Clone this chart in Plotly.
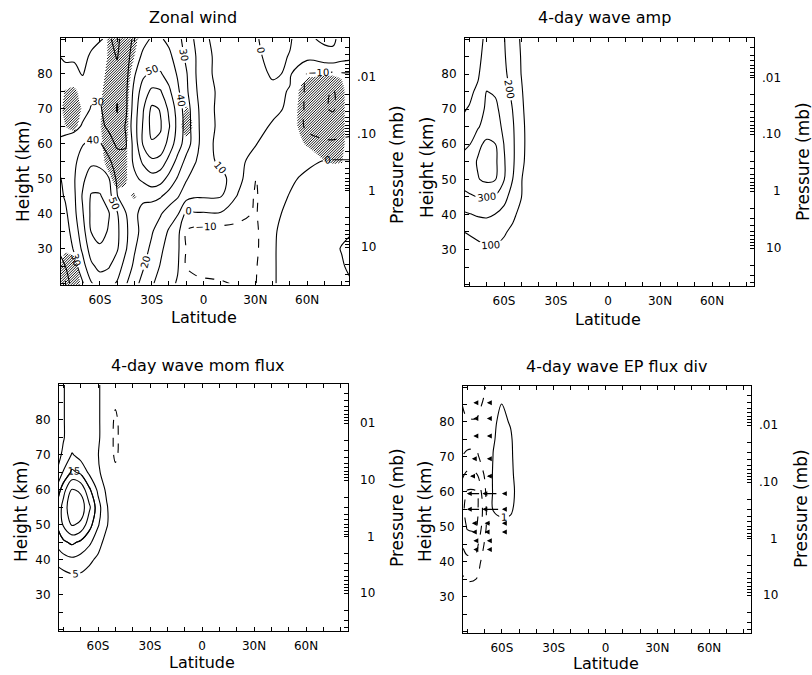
import numpy as np
import plotly.graph_objects as go

W, H = 812, 675
FONT = "DejaVu Sans"

# ------------------------------------------------------------------ data
heights = [20, 25, 30, 35, 40, 45, 50, 55, 60, 65, 70, 75, 80, 85, 90]

# Zonal wind (m/s), rows = heights, cols = lat_zw
lat_zw = [-85, -80, -75, -70, -65, -60, -55, -50, -45, -40, -35, -30, -25, -20, -15, -10, -5, 0,
          10, 20, 30, 40, 50, 60, 70, 75, 80, 85]
zonal_wind = [
    [16, 18, 22, 29, 39, 44, 43, 39, 31, 23, 17, 11, 7, 3, -1, -6, -8, -9, -9.5, -10.5, -10.5, -1, 4, 5, 6, 7, 8, 9],
    [18, 20, 26, 36, 48, 53, 51, 45, 36, 28, 21, 15, 9.5, 5, 1, -10.5, -12, -12, -12, -12, -11, -1, 4, 5, 7, 8, 9, 12],
    [20, 23, 31, 42, 55, 58, 56, 51, 41, 31, 24, 18, 12, 6, 2, -10.5, -13, -13, -14, -14, -12, -1, 4, 5, 7, 8, 10.5, 13],
    [22, 26, 34, 46, 60.5, 65, 59, 52, 42, 33, 27, 21, 15, 9, 3, -10.5, -13, -13, -14, -13, -12, -1, 3, 5, 6, 7, 8, 9],
    [24, 28, 37, 49, 62, 66, 61, 51, 40.5, 32, 27, 24, 21, 15, 11, -3, -1, -1, -1, -7, -11, -2, 2, 4, 5, 5, 5, 5],
    [26, 31, 38, 51, 61, 61, 55, 40.5, 33, 30.5, 32, 33, 31, 26, 21, 14, 11, 11, 10.5, -1, -11, -4, 0.5, 3, 4, 4, 4, 4],
    [28, 32, 39, 48, 55, 55, 51, 38, 34, 38, 42, 46, 44, 37, 29, 21, 15, 13, 13, 4, -10.5, -6, -1.5, 2, 3, 3.5, 4, 4],
    [31, 33, 38, 44, 48, 47, 42, 35, 33, 42, 52, 58, 56, 47, 37, 27, 21, 14, 8, 3, -4, -5, -4, -2, 0.5, 0.8, 0.8, 0.8],
    [31, 33, 36, 39.5, 42, 41, 35, 28, 29, 44, 61, 69, 68, 56, 45, 35, 25, 15, 6, 4, 0.5, -4, -6, -8, -8.5, -8.5, -8.5, -8.5],
    [28, 27, 27, 31, 34, 33, 28, 22, 31, 46, 61, 73, 71, 61, 47, 36, 24, 16, 7, 5, 3, -1, -6, -11, -14, -15, -13, -12],
    [26, 25, 24, 27, 30.5, 31, 26, 19.5, 28, 45, 59, 72, 69.5, 58, 46, 35, 24, 15, 7, 5, 3.5, 2, -1.5, -12, -19, -21, -16, -14],
    [25, 24, 24, 25, 28, 29, 26, 21, 28, 43, 55, 62, 61, 52, 42, 32, 22, 14, 8, 6, 5, 2, -0.5, -12, -18, -21, -15, -13],
    [23, 22, 22, 19.5, 24, 26, 25, 22, 27, 39, 48, 52, 51, 46, 39, 31, 21, 13, 7, 5, 3, -1, 1, -10.5, -11, -12, -11, -11],
    [20.5, 19, 19, 18, 21, 23, 23, 19.5, 26, 35, 42, 45, 45, 42, 36, 28, 21, 12, 8, 4, 2, -3, 0.5, 3, 6, 7, 4, 3],
    [16, 15, 16, 17, 18, 19.5, 21, 18, 25, 32, 37, 41, 41, 38, 33, 26, 19, 11, 8, 4, 1, -4, -1, 8, 12, 12, 6, 4],
]

# Hatched regions of the zonal-wind panel (1 = hatched), same grid as zonal_wind
zw_hatch = [
    [.3, 1, 1, .3, 0, 0, 0, 0, 0, 0, 0, 0, 0, 0, 0, 0, 0, 0, 0, 0, 0, 0, 0, 0, 0, 0, 0, 0],
    [.2, .9, .8, .2, 0, 0, 0, 0, 0, 0, 0, 0, 0, 0, 0, 0, 0, 0, 0, 0, 0, 0, 0, 0, 0, 0, 0, 0],
    [0, .4, .3, 0, 0, 0, 0, 0, 0, 0, 0, 0, 0, 0, 0, 0, 0, 0, 0, 0, 0, 0, 0, 0, 0, 0, 0, 0],
    [0, 0, 0, 0, 0, 0, 0, 0, 0, 0, 0, 0, 0, 0, 0, 0, 0, 0, 0, 0, 0, 0, 0, 0, 0, 0, 0, 0],
    [0, 0, 0, 0, 0, 0, 0, 0, 0, 0, 0, 0, 0, 0, 0, 0, 0, 0, 0, 0, 0, 0, 0, 0, 0, 0, 0, 0],
    [0, 0, 0, 0, 0, 0, 0, .2, .3, .62, 0, 0, 0, 0, 0, 0, 0, 0, 0, 0, 0, 0, 0, 0, 0, 0, 0, 0],
    [0, 0, 0, 0, 0, 0, .3, .9, .6, 0, 0, 0, 0, 0, 0, 0, 0, 0, 0, 0, 0, 0, 0, 0, 0, 0, 0, 0],
    [0, 0, 0, 0, 0, .2, .8, 1, .6, 0, 0, 0, 0, 0, 0, 0, 0, 0, 0, 0, 0, 0, 0, 0, .5, .6, .55, 0],
    [0, 0, 0, 0, 0, .3, 1, 1, .6, 0, 0, 0, 0, 0, 0, .2, 0, 0, 0, 0, 0, 0, .1, .6, 1, 1, .75, 0],
    [0, .5, .7, .2, 0, .45, 1, 1, .7, 0, 0, 0, 0, 0, .1, 1, .3, 0, 0, 0, 0, 0, .2, .9, 1, 1, .75, 0],
    [.2, .7, 1, .4, 0, .4, 1, 1, .7, 0, 0, 0, 0, 0, 0, .6, .2, 0, 0, 0, 0, 0, .2, .9, 1, 1, .75, 0],
    [0, .55, .7, .2, 0, .3, 1, 1, .8, 0, 0, 0, 0, 0, 0, 0, 0, 0, 0, 0, 0, 0, .1, .9, 1, 1, .75, 0],
    [0, 0, 0, 0, 0, .1, .8, 1, .9, .2, 0, 0, 0, 0, 0, 0, 0, 0, 0, 0, 0, 0, 0, .4, .45, .45, .4, 0],
    [0, 0, 0, 0, 0, 0, .6, 1, 1, .5, 0, 0, 0, 0, 0, 0, 0, 0, 0, 0, 0, 0, 0, 0, 0, 0, 0, 0],
    [0, 0, 0, 0, 0, 0, .6, 1, 1, .7, .2, 0, 0, 0, 0, 0, 0, 0, 0, 0, 0, 0, 0, 0, 0, 0, 0, 0],
]

# Southern high-latitude grid for the wave diagnostics
lat_sh = [-85, -80, -75, -70, -65, -60, -55, -50, -45, -40]

wave_amp = [
    [10, 15, 20, 25, 25, 20, 15, 10, 5, 0],
    [20, 30, 40, 50, 50, 40, 30, 20, 10, 0],
    [40, 55, 70, 90, 90, 75, 55, 35, 15, 5],
    [95, 110, 130, 140, 130, 110, 80, 50, 20, 5],
    [180, 195, 210, 215, 198, 170, 120, 70, 30, 5],
    [270, 285, 302, 305, 290, 230, 160, 102, 40, 10],
    [330, 360, 395, 420, 405, 305, 200, 105, 40, 10],
    [330, 355, 410, 440, 420, 310, 215, 125, 50, 10],
    [270, 295, 380, 420, 402, 298, 215, 130, 55, 10],
    [210, 235, 290, 350, 340, 280, 210, 130, 50, 10],
    [190, 205, 250, 320, 320, 262, 198, 120, 45, 10],
    [170, 185, 215, 302, 290, 240, 180, 110, 40, 5],
    [150, 165, 190, 260, 250, 220, 160, 98, 35, 5],
    [140, 150, 175, 240, 240, 210, 150, 95, 30, 5],
    [130, 140, 165, 225, 230, 205, 140, 90, 30, 5],
]

mom_flux = [
    [0, 0, 0, 0, 0, 0, 0, 0, 0, 0],
    [0, 0, 0, 0, 0, 0, 0, 0, 0, 0],
    [0, 1, 1, 1, 1, 0, 0, 0, 0, 0],
    [2, 3, 4, 4, 3, 2, 1, 0, 0, 0],
    [6, 8, 9, 8, 6, 4, 2, 0, 0, 0],
    [10.5, 14, 16, 14, 11, 7, 3, 0, 0, 0],
    [13, 20.5, 25.5, 24, 17, 10.5, 5.5, 1, 0, 0],
    [13, 22, 29, 28, 21, 12, 5.5, 1, 0, 0],
    [9, 18, 25.5, 24, 16, 9, 4, 0, 0, 0],
    [4, 10.5, 16, 14, 9, 6, 2, -3, -1, 0],
    [3.5, 5.5, 10.5, 8, 6, 5.2, 1, -6.5, -1, 0],
    [3.5, 4.8, 6.5, 6, 6, 6, 1, -7, -1, 0],
    [3.5, 4.8, 6.5, 6, 6, 6, 1, -6.5, -1, 0],
    [3.5, 4.8, 6.5, 6, 6, 6, 1, -4, 0, 0],
    [3.5, 4.8, 6.5, 6, 6, 6, 1, 0, 0, 0],
]

lat_ep = [-85, -80, -75, -70, -65, -60, -55, -50]
ep_div = [
    [0, 0, 0, 0, 0, 0, 0, 0],
    [0, 0, 0, 0, 0, 0, 0, 0],
    [-0.3, -0.4, -0.4, -0.1, 0, 0, 0, 0],
    [-0.7, -1.1, -1.0, -0.3, 0, 0, 0, 0],
    [-1.2, -1.7, -1.6, -0.5, 0, 0, 0, 0],
    [-1.7, -2.5, -2.4, -0.9, 0.1, 0, 0, 0],
    [-2.1, -3.1, -3.2, -1.3, 0.3, 0.5, 0.4, 0],
    [-2.3, -3.4, -3.5, -1.5, 1.1, 1.4, 1.3, 0.2],
    [-2.1, -3.1, -3.1, -1.3, 1.2, 1.6, 1.6, 0.3],
    [-1.6, -2.2, -2.1, -0.9, 1.2, 1.6, 1.4, 0.2],
    [-0.9, -1.2, -1.2, -0.6, 1.05, 1.5, 1.3, 0.1],
    [-0.6, -0.7, -0.7, -0.4, 0.9, 1.4, 1.2, 0.1],
    [-0.6, -0.9, -0.9, -0.5, 0.8, 1.3, 0.9, 0],
    [-0.8, -1.3, -1.4, -0.8, 0.5, 1.05, 0.4, 0],
    [-0.8, -1.6, -1.8, -1.1, 0.2, 0.6, 0.2, 0],
]

# EP-flux arrows: head latitude, height, shaft length (deg, tail lies equatorward)
ep_arrow_lat = [-76.5, -68.7, -81.3, -76.5, -68.7, -76.5, -68.7, -77.4, -68.7, -78.4, -68.7,
                -80.3, -71.3, -60, -80.3, -71.3, -60, -77.4, -70, -60, -77.4, -70, -60,
                -76.5, -68.7, -76.5, -68.7, -68.7, -76.5]
ep_arrow_z = [85.5, 85.5, 81, 81, 81, 76, 76, 69.5, 69.5, 64.5, 64.5,
              59.5, 59.5, 59.5, 55, 55, 55, 51, 51, 51, 48.5, 48.5, 48.5,
              46, 46, 43.5, 43.5, 41, 37.5]
ep_arrow_len = [2, 2, 1.5, 2, 2, 2, 2, 2.5, 3, 3, 4,
                8, 9, 2.5, 8, 10, 3, 4, 4, 2, 3, 3, 2,
                2, 2, 2, 2, 1.5, 1.5]

lat_ticks = [-80, -70, -60, -50, -40, -30, -20, -10, 0, 10, 20, 30, 40, 50, 60, 70, 80]
lat_labels = ["", "", "60S", "", "", "30S", "", "", "0", "", "", "30N", "", "", "60N", "", ""]
height_ticks = [20, 25, 30, 35, 40, 45, 50, 55, 60, 65, 70, 75, 80, 85, 90]
height_labels = ["", "", "30", "", "40", "", "50", "", "60", "", "70", "", "80", "", ""]
pressure_label_values = [10, 1, 0.1, 0.01]
pressure_label_text = ["10", "1", ".10", ".01"]
pressure_label_text_p3 = ["10", "1", "10", "01"]

titles = ["Zonal wind", "4-day wave amp", "4-day wave mom flux", "4-day wave EP flux div"]

# ------------------------------------------------------------------ layout geometry
XR = [-82.5, 84.2]
YR = [19.6, 90.3]
frames = [(61, 349, 38, 285), (465, 754, 38, 286), (59, 348, 384, 631), (463, 751, 386, 633)]
title_pos = [(193, 17), (604, 18), (198, 365), (616, 366)]
lat_title_pos = [(204, 318), (608, 319), (202, 662), (606, 663)]
hgt_title_pos = [(23, 172), (427, 168), (21, 512), (425, 512)]
prs_title_pos = [(397, 165), (803, 162), (397, 508), (801, 509)]


def p2z(p):
    return 46.6 - 16.2 * np.log10(p)


press_ticks = []
for n in [-3, -2, -1, 0, 1]:
    for k in range(1, 10):
        zt = p2z(k * 10.0 ** n)
        if YR[0] < zt < YR[1]:
            press_ticks.append(float(zt))


def px(x):
    return x / W


def py(y):
    return 1 - y / H


fig = go.Figure()
layout = dict(width=W, height=H, margin=dict(l=0, r=0, t=0, b=0), autosize=False,
              paper_bgcolor="white", plot_bgcolor="white", showlegend=False,
              font=dict(family=FONT, color="black"))
annotations = []
tickfont = dict(family=FONT, size=12, color="black")

for i, (x0, x1, y0, y1) in enumerate(frames):
    n = i + 1
    sx = "" if n == 1 else str(n)
    layout["xaxis" + sx] = dict(domain=[px(x0), px(x1)], range=XR, anchor="y" + sx,
                                tickmode="array", tickvals=lat_ticks, ticktext=lat_labels,
                                ticks="inside", ticklen=4, tickwidth=1, tickcolor="black",
                                showline=True, linecolor="black", linewidth=1, mirror="ticks",
                                showgrid=False, zeroline=False, tickfont=tickfont,
                                ticklabelstandoff=4)
    layout["yaxis" + sx] = dict(domain=[py(y1), py(y0)], range=YR, anchor="x" + sx,
                                tickmode="array", tickvals=height_ticks, ticktext=height_labels,
                                ticks="inside", ticklen=4, tickwidth=1, tickcolor="black",
                                showline=True, linecolor="black", linewidth=1, mirror=True,
                                showgrid=False, zeroline=False, tickfont=tickfont,
                                ticklabelstandoff=5)
    ry = "yaxis" + str(n + 4)
    layout[ry] = dict(overlaying="y" + sx, side="right", anchor="x" + sx, range=YR,
                      tickmode="array", tickvals=press_ticks, ticks="inside", ticklen=4,
                      tickwidth=1, tickcolor="black", showticklabels=False, showline=False,
                      showgrid=False, zeroline=False)
    fig.add_trace(go.Scatter(x=[0], y=[50], xaxis="x" + sx, yaxis="y" + str(n + 4), mode="markers",
                             marker=dict(opacity=0), hoverinfo="skip", showlegend=False))
    # texts
    annotations.append(dict(text=titles[i], x=px(title_pos[i][0]), y=py(title_pos[i][1]),
                            xref="paper", yref="paper", showarrow=False, xanchor="center",
                            yanchor="middle", font=dict(family=FONT, size=16, color="black")))
    annotations.append(dict(text="Latitude", x=px(lat_title_pos[i][0]), y=py(lat_title_pos[i][1]),
                            xref="paper", yref="paper", showarrow=False, xanchor="center",
                            yanchor="middle", font=dict(family=FONT, size=16, color="black")))
    annotations.append(dict(text="Height (km)", x=px(hgt_title_pos[i][0]), y=py(hgt_title_pos[i][1]),
                            xref="paper", yref="paper", showarrow=False, xanchor="center",
                            yanchor="middle", textangle=-90,
                            font=dict(family=FONT, size=17, color="black")))
    annotations.append(dict(text="Pressure (mb)", x=px(prs_title_pos[i][0]), y=py(prs_title_pos[i][1]),
                            xref="paper", yref="paper", showarrow=False, xanchor="center",
                            yanchor="middle", textangle=-90,
                            font=dict(family=FONT, size=17, color="black")))
    ptext = pressure_label_text_p3 if n == 3 else pressure_label_text
    for pv, pt in zip(pressure_label_values, ptext):
        annotations.append(dict(text=pt, x=px(x1 + 29), y=float(p2z(pv)), xref="paper",
                                yref="y" + str(n + 4), showarrow=False, xanchor="right",
                                yanchor="middle", font=tickfont))


def contour(xa, ya, x, z, start, end, size, dash="solid", labels=False):
    return go.Contour(x=x, y=heights, z=z, xaxis=xa, yaxis=ya, autocontour=False,
                      contours=dict(start=start, end=end, size=size, coloring="lines",
                                    showlabels=labels,
                                    labelfont=dict(family=FONT, size=10, color="black")),
                      colorscale=[[0, "black"], [1, "black"]], showscale=False,
                      line=dict(width=1.1, dash=dash, smoothing=1), hoverinfo="skip")


def bilinear(xg, yg, g, x, y):
    i = np.clip(np.searchsorted(xg, x) - 1, 0, len(xg) - 2)
    j = np.clip(np.searchsorted(yg, y) - 1, 0, len(yg) - 2)
    tx = np.clip((x - xg[i]) / (xg[i + 1] - xg[i]), 0, 1)
    ty = np.clip((y - yg[j]) / (yg[j + 1] - yg[j]), 0, 1)
    return (g[j, i] * (1 - tx) * (1 - ty) + g[j, i + 1] * tx * (1 - ty)
            + g[j + 1, i] * (1 - tx) * ty + g[j + 1, i + 1] * tx * ty)


def hatch_lines(lats, zs, mask, frame, step=2.6):
    xg = np.asarray(lats, float)
    yg = np.asarray(zs, float)
    g = np.asarray(mask, float)
    wpx = frame[1] - frame[0]
    hpx = frame[3] - frame[2]
    sxp = wpx / (XR[1] - XR[0])
    syp = hpx / (YR[1] - YR[0])
    u = np.arange(0, wpx + 0.01, 0.4)
    xs, ys = [], []
    for c in np.arange(-wpx, hpx, step):
        v = u + c
        ok = (v >= 0) & (v <= hpx)
        if not ok.any():
            continue
        la = XR[0] + u[ok] / sxp
        zz = YR[0] + v[ok] / syp
        inside = bilinear(xg, yg, g, la, zz) > 0.5
        d = np.diff(np.concatenate([[0], inside.astype(int), [0]]))
        st = np.where(d == 1)[0]
        en = np.where(d == -1)[0] - 1
        for s, e in zip(st, en):
            if e > s:
                xs += [float(la[s]), float(la[e]), None]
                ys += [float(zz[s]), float(zz[e]), None]
    return xs, ys


# Panel 1: zonal wind
hx, hy = hatch_lines(lat_zw, heights, zw_hatch, frames[0])
fig.add_trace(go.Scatter(x=hx, y=hy, xaxis="x", yaxis="y", mode="lines",
                         line=dict(color="black", width=0.9), hoverinfo="skip"))
fig.add_trace(contour("x", "y", lat_zw, zonal_wind, 0, 50, 10, labels=True))
fig.add_trace(contour("x", "y", lat_zw, zonal_wind, 60, 70, 10))
fig.add_trace(contour("x", "y", lat_zw, zonal_wind, -10, -10, 10, dash="dash", labels=True))
fig.add_trace(contour("x", "y", lat_zw, zonal_wind, -20, -20, 10, dash="dash"))

# Panel 2: wave amplitude
fig.add_trace(contour("x2", "y2", lat_sh, wave_amp, 100, 300, 100, labels=True))
fig.add_trace(contour("x2", "y2", lat_sh, wave_amp, 400, 400, 100))

# Panel 3: momentum flux
fig.add_trace(contour("x3", "y3", lat_sh, mom_flux, 5, 15, 10, labels=True))
fig.add_trace(contour("x3", "y3", lat_sh, mom_flux, 10, 25, 5))
fig.add_trace(contour("x3", "y3", lat_sh, mom_flux, -5, -5, 5, dash="dash"))

# Panel 4: EP flux divergence
fig.add_trace(contour("x4", "y4", lat_ep, ep_div, -3, -1, 1, dash="dash"))
fig.add_trace(contour("x4", "y4", lat_ep, ep_div, 1, 1, 1, labels=True))
for la, zz, ln in zip(ep_arrow_lat, ep_arrow_z, ep_arrow_len):
    annotations.append(dict(x=la, y=zz, ax=la + ln, ay=zz, xref="x4", yref="y4",
                            axref="x4", ayref="y4", showarrow=True, arrowhead=2,
                            arrowsize=0.9, arrowwidth=1.1, arrowcolor="black", text=""))

layout["annotations"] = annotations
fig.update_layout(**layout)
fig.write_html("out.html")
